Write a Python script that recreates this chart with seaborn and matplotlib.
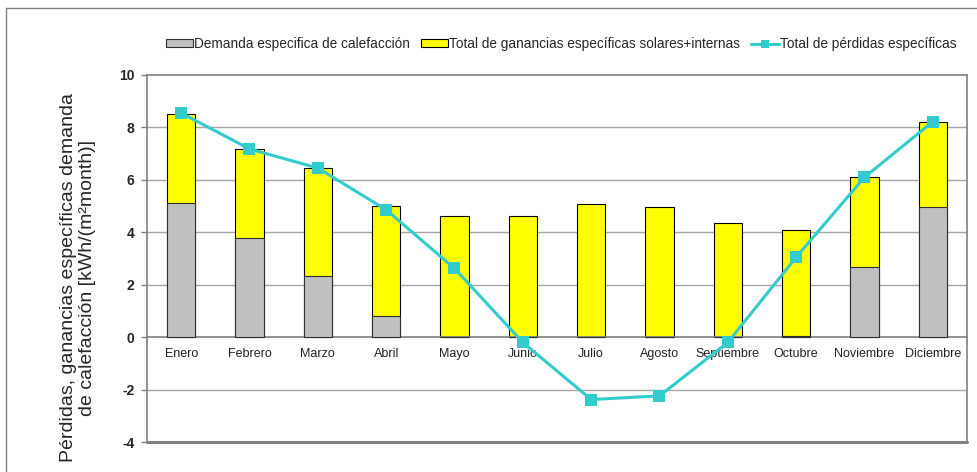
import numpy as np
import pandas as pd
import seaborn as sns
import matplotlib
matplotlib.use("Agg")
import matplotlib.pyplot as plt
from matplotlib.patches import Patch
from matplotlib.lines import Line2D

# monthly values, kWh/(m2 month)
meses = ["Enero", "Febrero", "Marzo", "Abril", "Mayo", "Junio", "Julio",
         "Agosto", "Septiembre", "Octubre", "Noviembre", "Diciembre"]
demanda = [5.10, 3.78, 2.32, 0.80, 0.0, 0.0, 0.0, 0.0, 0.0, 0.05, 2.66, 4.98]
ganancias = [3.42, 3.38, 4.14, 4.22, 4.64, 4.64, 5.06, 4.98, 4.37, 4.02, 3.46, 3.23]
perdidas = [8.55, 7.18, 6.45, 4.86, 2.62, -0.20, -2.38, -2.24, -0.20, 3.05, 6.10, 8.22]
y_ticks = [-4, -2, 0, 2, 4, 6, 8, 10]

df = pd.DataFrame({"mes": meses, "demanda": demanda, "ganancias": ganancias,
                   "perdidas": perdidas})
df["total"] = df["demanda"] + df["ganancias"]

sns.set_style("white")
plt.rcParams["font.family"] = ["Liberation Sans", "DejaVu Sans"]
plt.rcParams["axes.unicode_minus"] = False

fig = plt.figure(figsize=(9.78, 4.72), dpi=100)
ax = fig.add_axes([147 / 978, 1 - 442 / 472, (967 - 147) / 978, (442 - 75) / 472])

grid_col = "#a6a6a6"
for v in [-2, 2, 4, 6, 8]:
    ax.axhline(v, color=grid_col, lw=1, zorder=0)

# stacked bars: yellow total behind, gray demand in front
sns.barplot(data=df, x="mes", y="total", color="#ffff00", edgecolor="black",
            linewidth=0.8, width=0.41, saturation=1, ax=ax, zorder=2)
sns.barplot(data=df, x="mes", y="demanda", color="#c0c0c0", edgecolor="#303030",
            linewidth=0.8, width=0.41, saturation=1, ax=ax, zorder=3)

line_col = "#33cccc"
sns.lineplot(x=np.arange(len(meses)), y=df["perdidas"], sort=False, color=line_col,
             lw=2.2, marker="s", markersize=8.5, markeredgewidth=0, ax=ax, zorder=4)

ax.set_xlim(-0.5, 11.5)
ax.set_ylim(-4, 10)
ax.set_yticks(y_ticks)
ax.set_yticklabels([str(v) for v in y_ticks], fontweight="bold", fontsize=10)
ax.set_xlabel("")
ax.set_ylabel("")

# x axis sits on zero, the box keeps its edge at -4
ax.spines["bottom"].set_position(("data", 0))
for s in ["bottom", "left", "right", "top"]:
    ax.spines[s].set_color("#808080")
    ax.spines[s].set_linewidth(1.2)
ax.axhline(-4, color="#808080", lw=2.2, clip_on=False, zorder=1)

ax.set_xticks(np.arange(-0.5, 12, 1), minor=True)
ax.tick_params(axis="x", which="major", length=0, pad=8, labelsize=9, colors="#222222")
ax.tick_params(axis="x", which="minor", length=4, width=1, color="#808080", direction="out")
ax.tick_params(axis="y", which="major", left=True, length=4, width=1, color="#808080",
               direction="out", pad=5)

fig.text(78 / 978, 1 - 278 / 472,
         "Pérdidas, ganancias específicas demanda\nde calefacción [kWh/(m²month)]",
         rotation=90, ha="center", va="center", fontsize=14, linespacing=1.2)

handles = [
    Patch(facecolor="#c0c0c0", edgecolor="#303030", lw=0.8),
    Patch(facecolor="#ffff00", edgecolor="black", lw=0.8),
    Line2D([], [], color=line_col, lw=2.2, marker="s", markersize=6, markeredgewidth=0),
]
labels = ["Demanda especifica de calefacción",
          "Total de ganancias específicas solares+internas",
          "Total de pérdidas específicas"]
fig.legend(handles, labels, loc="center", bbox_to_anchor=(561 / 978, 1 - 44 / 472),
           ncol=3, frameon=False, fontsize=9.8, handlelength=2.0, handleheight=0.5,
           handletextpad=0.1, columnspacing=0.8)

# outer frame on left and top edges
fig.add_artist(Line2D([6 / 978, 6 / 978], [0, 1 - 8 / 472], color="#808080", lw=1,
                      transform=fig.transFigure))
fig.add_artist(Line2D([6 / 978, 1], [1 - 8 / 472, 1 - 8 / 472], color="#808080", lw=1,
                      transform=fig.transFigure))

fig.savefig("out.png", dpi=100)
